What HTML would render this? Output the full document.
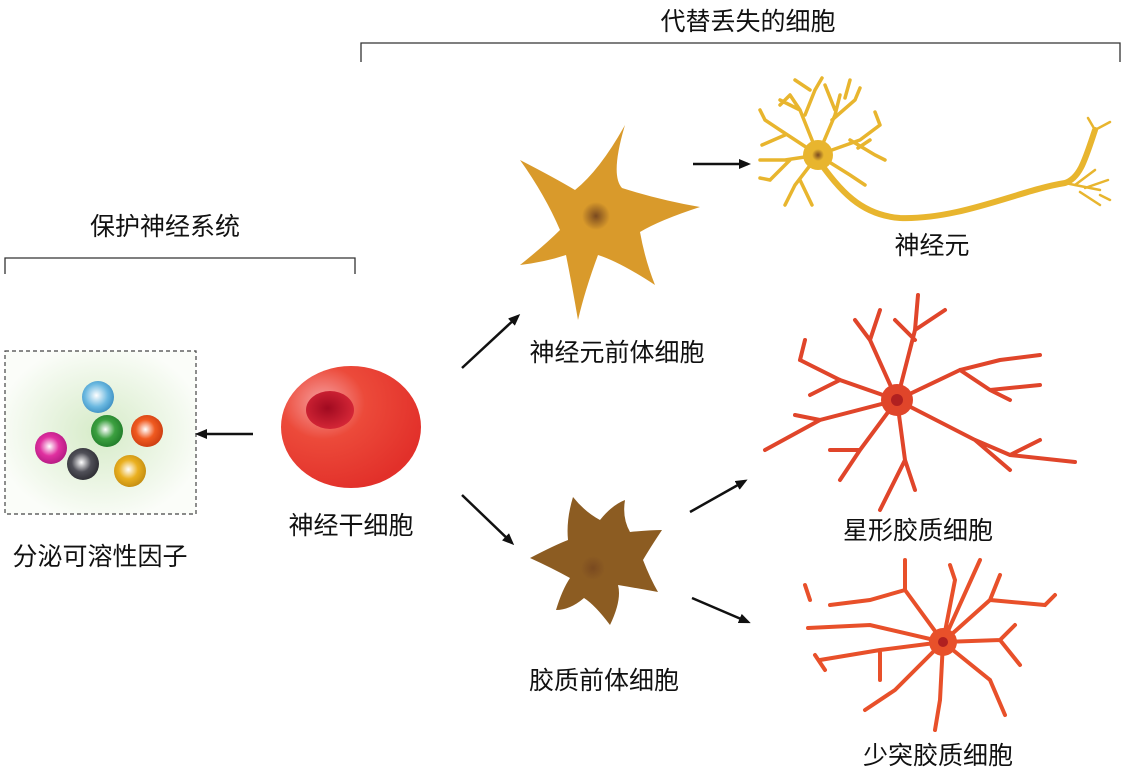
<!DOCTYPE html>
<html><head><meta charset="utf-8"><style>
html,body{margin:0;padding:0;background:#fff;}
svg{display:block;}
text{font-family:"Liberation Sans","Noto Sans CJK SC",sans-serif;font-size:25px;fill:#111;}
</style></head><body>
<svg width="1127" height="778" viewBox="0 0 1127 778" xmlns="http://www.w3.org/2000/svg">
<defs>
<radialGradient id="glow" cx="50%" cy="50%" r="55%"><stop offset="0" stop-color="#d6ebc8"/><stop offset="1" stop-color="#fbfdf9"/></radialGradient>
<radialGradient id="stem" cx="30%" cy="30%" r="75%"><stop offset="0" stop-color="#f6a0a0"/><stop offset="0.4" stop-color="#ec4a3a"/><stop offset="1" stop-color="#e2302a"/></radialGradient>
<radialGradient id="nuc" cx="45%" cy="45%" r="60%"><stop offset="0" stop-color="#a00a20"/><stop offset="1" stop-color="#d82838"/></radialGradient>
<radialGradient id="bb" cx="45%" cy="45%" r="60%"><stop offset="0" stop-color="#fff"/><stop offset="0.6" stop-color="#6ab8e0"/><stop offset="1" stop-color="#3a8cc0"/></radialGradient>
<radialGradient id="bg" cx="45%" cy="45%" r="60%"><stop offset="0" stop-color="#fff"/><stop offset="0.5" stop-color="#3ca040"/><stop offset="1" stop-color="#1f7a28"/></radialGradient>
<radialGradient id="bo" cx="45%" cy="45%" r="60%"><stop offset="0" stop-color="#fff"/><stop offset="0.5" stop-color="#f05a20"/><stop offset="1" stop-color="#c83a10"/></radialGradient>
<radialGradient id="bm" cx="45%" cy="45%" r="60%"><stop offset="0" stop-color="#fff"/><stop offset="0.5" stop-color="#e030a0"/><stop offset="1" stop-color="#b01880"/></radialGradient>
<radialGradient id="bk" cx="45%" cy="45%" r="60%"><stop offset="0" stop-color="#fff"/><stop offset="0.5" stop-color="#505058"/><stop offset="1" stop-color="#2a2a30"/></radialGradient>
<radialGradient id="by" cx="45%" cy="45%" r="60%"><stop offset="0" stop-color="#fff"/><stop offset="0.5" stop-color="#eab020"/><stop offset="1" stop-color="#c08a10"/></radialGradient>
<radialGradient id="cn" cx="50%" cy="50%" r="50%"><stop offset="0" stop-color="#7a4a20"/><stop offset="1" stop-color="#7a4a20" stop-opacity="0"/></radialGradient>
<marker id="ar" markerWidth="12" markerHeight="10" refX="9" refY="5" orient="auto" markerUnits="userSpaceOnUse"><path d="M0,0 L12,5 L0,10 Z" fill="#111"/></marker>
</defs>

<path d="M361,62 V43 H1120 V62" fill="none" stroke="#333" stroke-width="1.3"/>
<text x="748" y="30" text-anchor="middle">代替丢失的细胞</text>
<path d="M5,274 V258 H355 V274" fill="none" stroke="#333" stroke-width="1.3"/>
<text x="165" y="235" text-anchor="middle">保护神经系统</text>

<rect x="5" y="351" width="191" height="163" fill="url(#glow)" stroke="#444" stroke-width="1.2" stroke-dasharray="4,3"/>
<circle cx="98" cy="397" r="16" fill="url(#bb)"/>
<circle cx="107" cy="431" r="16" fill="url(#bg)"/>
<circle cx="147" cy="431" r="16" fill="url(#bo)"/>
<circle cx="51" cy="448" r="16" fill="url(#bm)"/>
<circle cx="83" cy="464" r="16" fill="url(#bk)"/>
<circle cx="130" cy="471" r="16" fill="url(#by)"/>
<text x="100" y="565" text-anchor="middle">分泌可溶性因子</text>

<g stroke="#111" stroke-width="2.5" marker-end="url(#ar)">
<line x1="253" y1="434" x2="198" y2="434"/>
<line x1="462" y1="368" x2="518" y2="316"/>
<line x1="462" y1="495" x2="512" y2="543"/>
<line x1="693" y1="164" x2="748" y2="164"/>
<line x1="690" y1="512" x2="745" y2="481"/>
<line x1="692" y1="598" x2="748" y2="622"/>
</g>

<ellipse cx="351" cy="427" rx="70" ry="61" fill="url(#stem)"/>
<ellipse cx="330" cy="410" rx="24" ry="19" fill="url(#nuc)"/>
<text x="351" y="534" text-anchor="middle">神经干细胞</text>

<path d="M625,125 Q610,175 622,188 Q660,200 700,207 Q660,220 640,232 Q645,260 655,285 Q620,262 598,255 Q585,290 578,320 Q572,285 566,255 Q545,262 520,265 Q545,245 560,230 Q545,195 520,160 Q555,178 575,190 Q600,170 625,125 Z" fill="#d99a2b"/>
<circle cx="596" cy="216" r="14" fill="url(#cn)"/>
<text x="617" y="361" text-anchor="middle">神经元前体细胞</text>

<path d="M573,497 Q585,512 600,520 Q612,505 625,500 Q622,518 630,532 Q650,530 662,530 Q650,548 643,560 Q650,578 658,592 Q636,588 618,585 Q622,600 610,625 Q595,605 584,598 Q570,610 556,610 Q562,590 570,578 Q552,568 530,558 Q555,545 568,540 Q566,520 573,497 Z" fill="#8c5c22"/>
<circle cx="593" cy="568" r="12" fill="url(#cn)"/>
<text x="604" y="689" text-anchor="middle">胶质前体细胞</text>

<g stroke="#e8b52e" fill="none" stroke-linecap="round">
<path d="M818,160 C840,190 860,215 900,218 C960,220 1020,190 1065,183 C1080,178 1085,160 1095,130" stroke-width="6"/>
<path d="M1065,183 L1100,190 M1075,185 L1095,170 M1085,188 L1108,180 M1080,192 L1100,205 M1095,130 L1110,122 M1095,130 L1088,118 M1100,195 L1110,200" stroke-width="2.5"/>
<path d="M818,155 L800,110 L790,95 M805,115 L815,90 L822,78 M818,155 L835,115 L840,95 M832,120 L855,100 L860,88 M835,110 L825,85 M818,155 L860,140 L880,125 M850,140 L875,155 L885,160 M818,155 L850,175 L865,185 M818,155 L780,130 L765,120 M785,135 L762,145 M818,155 L785,160 L760,160 M790,160 L770,180 M818,155 L795,185 L785,205 M800,180 L812,205 M810,90 L795,80 M845,98 L850,80 M800,110 L780,100 M858,148 L870,140 M790,95 L780,105 M765,120 L760,110 M880,125 L875,112 M770,180 L760,178" stroke-width="3.5"/>
</g>
<circle cx="818" cy="155" r="15" fill="#e8b52e"/>
<circle cx="818" cy="155" r="6" fill="url(#cn)"/>
<text x="932" y="254" text-anchor="middle">神经元</text>

<g stroke="#e0452a" fill="none" stroke-linecap="round" stroke-width="4">
<path d="M897,400 L870,340 L855,320 M870,340 L880,310 M897,400 L915,330 L918,295 M915,330 L945,310 M915,340 L895,320 M897,400 L960,370 L1000,360 M960,370 L990,390 L1040,385 M1000,360 L1040,355 M990,390 L1010,400 M897,400 L975,440 L1010,455 L1075,462 M975,440 L1010,470 M1010,455 L1040,440 M897,400 L905,460 L880,510 M905,460 L915,490 M897,400 L860,450 L830,450 M860,450 L840,480 M897,400 L820,420 L765,450 M820,420 L795,415 M897,400 L840,380 L800,360 M840,380 L810,395 M800,360 L805,340"/>
</g>
<circle cx="897" cy="400" r="16" fill="#e0452a"/>
<circle cx="897" cy="400" r="6" fill="#b02020"/>
<text x="918" y="539" text-anchor="middle">星形胶质细胞</text>

<g stroke="#e8502a" fill="none" stroke-linecap="round" stroke-width="4">
<path d="M943,642 L905,590 L870,600 L830,605 M943,642 L955,580 L950,565 M943,642 L990,600 L1045,605 L1055,595 M943,642 L1000,640 L1020,665 M943,642 L990,680 L1005,715 M943,642 L940,700 L935,730 M943,642 L895,690 L865,710 M943,642 L880,650 L820,660 M943,642 L870,625 L808,628 M905,590 L905,560 M1000,640 L1015,625 M990,600 L1000,575 M880,650 L880,680 M943,642 L980,560 M805,585 L810,600 M815,655 L825,670"/>
</g>
<circle cx="943" cy="642" r="14" fill="#e8502a"/>
<circle cx="943" cy="642" r="5" fill="#b02020"/>
<text x="938" y="764" text-anchor="middle">少突胶质细胞</text>
</svg>
</body></html>
